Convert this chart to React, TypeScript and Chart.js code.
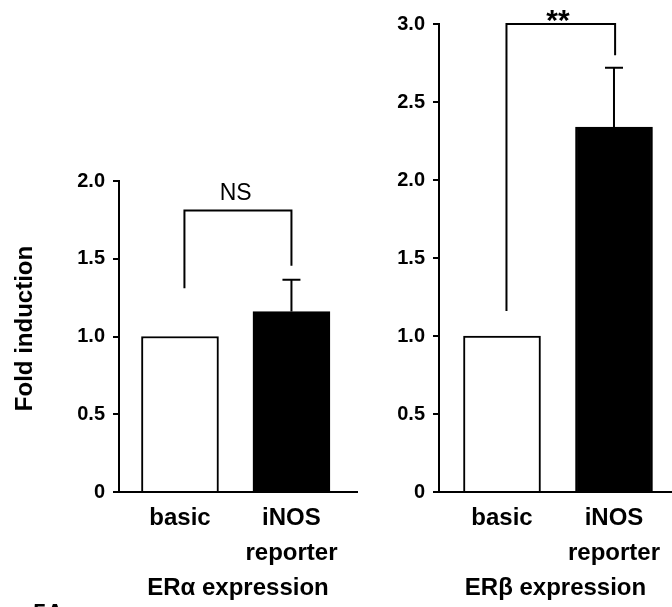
import React, { useEffect, useRef } from 'react';
import { Chart, registerables } from 'chart.js';

Chart.register(...registerables);

// ---------- data ----------
const categories: string[][] = [['basic'], ['iNOS', 'reporter']];
const categoryPositions = [1, 2];
const panelTitles = ['ERα expression', 'ERβ expression'];
const yAxisTitle = 'Fold induction';
const figureLabel = 'Figure 5A';

const alphaValues = [1.0, 1.16];
const alphaErrors = [0, 0.205];
const betaValues = [1.0, 2.34];
const betaErrors = [0, 0.38];

const alphaTicks = [0, 0.5, 1.0, 1.5, 2.0];
const betaTicks = [0, 0.5, 1.0, 1.5, 2.0, 2.5, 3.0];

const alphaBracketX = [1.04, 1.04, 2.0, 2.0];
const alphaBracketY = [1.31, 1.81, 1.81, 1.455];
const betaBracketX = [1.04, 1.04, 2.01, 2.01];
const betaBracketY = [1.16, 3.0, 3.0, 2.8];

const sigLabels = ['NS', '**'];
const sigLabelX = [1.5, 1.5];
const sigLabelY = [1.88, 2.96];

const barColors = ['#ffffff', '#000000'];

const FONT = "'Liberation Sans', Arial, Helvetica, sans-serif";

type PanelCfg = {
  values: number[];
  errors: number[];
  ticks: number[];
  bracketX: number[];
  bracketY: number[];
  sigIndex: number;
  title: string;
  showYTitle: boolean;
  yMax: number;
  xMin: number;
  xMax: number;
  yWidth: number;
  padTop: number;
  padRight: number;
  sigFont: string;
};

function buildChart(canvas: HTMLCanvasElement, p: PanelCfg) {
  const annotPlugin = {
    id: 'annot' + p.sigIndex,
    afterDatasetsDraw(chart: any) {
      const ctx = chart.ctx;
      const xs = chart.scales.x;
      const ys = chart.scales.y;
      const meta = chart.getDatasetMeta(0);
      ctx.save();
      ctx.strokeStyle = '#000';
      ctx.lineWidth = 2;
      meta.data.forEach((el: any, i: number) => {
        const e = p.errors[i];
        if (!e) return;
        const x = el.x;
        const yTop = ys.getPixelForValue(p.values[i] + e);
        ctx.beginPath();
        ctx.moveTo(x, el.y);
        ctx.lineTo(x, yTop);
        ctx.moveTo(x - 9, yTop);
        ctx.lineTo(x + 9, yTop);
        ctx.stroke();
      });
      ctx.fillStyle = '#000';
      ctx.font = p.sigFont;
      ctx.textAlign = 'center';
      ctx.textBaseline = 'alphabetic';
      ctx.fillText(
        sigLabels[p.sigIndex],
        xs.getPixelForValue(sigLabelX[p.sigIndex]),
        ys.getPixelForValue(sigLabelY[p.sigIndex])
      );
      if (p.showYTitle) {
        const ca = chart.chartArea;
        ctx.save();
        ctx.translate(25, (ca.top + ca.bottom) / 2 - 8);
        ctx.rotate(-Math.PI / 2);
        ctx.font = `bold 24px ${FONT}`;
        ctx.textAlign = 'center';
        ctx.textBaseline = 'middle';
        ctx.fillText(yAxisTitle, 0, 0);
        ctx.restore();
      }
      ctx.restore();
    },
  };

  return new Chart(canvas, {
    type: 'bar',
    data: {
      datasets: [
        {
          type: 'bar',
          data: categoryPositions.map((x, i) => ({ x, y: p.values[i] })),
          backgroundColor: barColors,
          borderColor: '#000',
          borderWidth: 2,
          borderSkipped: 'bottom',
          barThickness: 77,
          clip: false,
        } as any,
        {
          type: 'line',
          data: p.bracketX.map((x, i) => ({ x, y: p.bracketY[i] })),
          borderColor: '#000',
          borderWidth: 2,
          pointRadius: 0,
          fill: false,
          tension: 0,
          borderJoinStyle: 'miter',
          clip: false,
        } as any,
      ],
    },
    options: {
      responsive: false,
      animation: false,
      devicePixelRatio: 1,
      events: [],
      layout: { padding: { top: p.padTop, right: p.padRight, bottom: 0, left: 0 } },
      plugins: { legend: { display: false }, tooltip: { enabled: false } },
      scales: {
        x: {
          type: 'linear',
          offset: false,
          min: p.xMin,
          max: p.xMax,
          afterBuildTicks: (s: any) => {
            s.ticks = categoryPositions.map((v) => ({ value: v }));
          },
          afterFit: (s: any) => {
            s.height = 115;
          },
          grid: { display: false, drawTicks: false, offset: false },
          border: { display: true, color: '#000', width: 2 },
          ticks: {
            color: '#000',
            padding: 9,
            maxRotation: 0,
            autoSkip: false,
            font: { family: FONT, size: 24, weight: 'bold', lineHeight: 1.45 },
            callback: (v: any) => {
              const i = categoryPositions.indexOf(Number(v));
              return i >= 0 ? categories[i] : '';
            },
          },
          title: {
            display: true,
            text: p.title,
            color: '#000',
            padding: { top: 0, bottom: 4 },
            font: { family: FONT, size: 24, weight: 'bold', lineHeight: 1.2 },
          },
        },
        y: {
          type: 'linear',
          min: 0,
          max: p.yMax,
          afterBuildTicks: (s: any) => {
            s.ticks = p.ticks.map((v) => ({ value: v }));
          },
          afterFit: (s: any) => {
            s.width = p.yWidth;
          },
          grid: {
            display: true,
            drawOnChartArea: false,
            drawTicks: true,
            tickLength: 6,
            tickWidth: 2,
            color: '#000',
            lineWidth: 2,
          },
          border: { display: true, color: '#000', width: 2 },
          ticks: {
            color: '#000',
            padding: 8,
            font: { family: FONT, size: 20, weight: 'bold' },
            callback: (v: any) => (Number(v) === 0 ? '0' : Number(v).toFixed(1)),
          },
          title: { display: false },
        },
      },
    } as any,
    plugins: [annotPlugin],
  });
}

export default function App() {
  const leftRef = useRef<HTMLCanvasElement>(null);
  const rightRef = useRef<HTMLCanvasElement>(null);

  useEffect(() => {
    document.body.style.margin = '0';
    const c1 = buildChart(leftRef.current!, {
      values: alphaValues,
      errors: alphaErrors,
      ticks: alphaTicks,
      bracketX: alphaBracketX,
      bracketY: alphaBracketY,
      sigIndex: 0,
      title: panelTitles[0],
      showYTitle: true,
      yMax: 2,
      xMin: 0.453,
      xMax: 2.588,
      yWidth: 119,
      padTop: 181,
      padRight: 3,
      sigFont: `23px ${FONT}`,
    });
    const c2 = buildChart(rightRef.current!, {
      values: betaValues,
      errors: betaErrors,
      ticks: betaTicks,
      bracketX: betaBracketX,
      bracketY: betaBracketY,
      sigIndex: 1,
      title: panelTitles[1],
      showYTitle: false,
      yMax: 3,
      xMin: 0.4375,
      xMax: 2.518,
      yWidth: 79,
      padTop: 24,
      padRight: 0,
      sigFont: `bold 30px ${FONT}`,
    });
    return () => {
      c1.destroy();
      c2.destroy();
    };
  }, []);

  return (
    <div
      style={{
        position: 'absolute',
        left: 0,
        top: 0,
        width: 672,
        height: 607,
        overflow: 'hidden',
        background: '#fff',
      }}
    >
      <canvas
        ref={leftRef}
        width={360}
        height={607}
        style={{ position: 'absolute', left: 0, top: 0, width: 360, height: 607 }}
      />
      <canvas
        ref={rightRef}
        width={312}
        height={607}
        style={{ position: 'absolute', left: 360, top: 0, width: 312, height: 607 }}
      />
      <div
        style={{
          position: 'absolute',
          left: -47,
          top: 601,
          font: `bold 24px ${FONT}`,
          lineHeight: '24px',
          whiteSpace: 'nowrap',
          color: '#000',
        }}
      >
        {figureLabel}
      </div>
    </div>
  );
}
